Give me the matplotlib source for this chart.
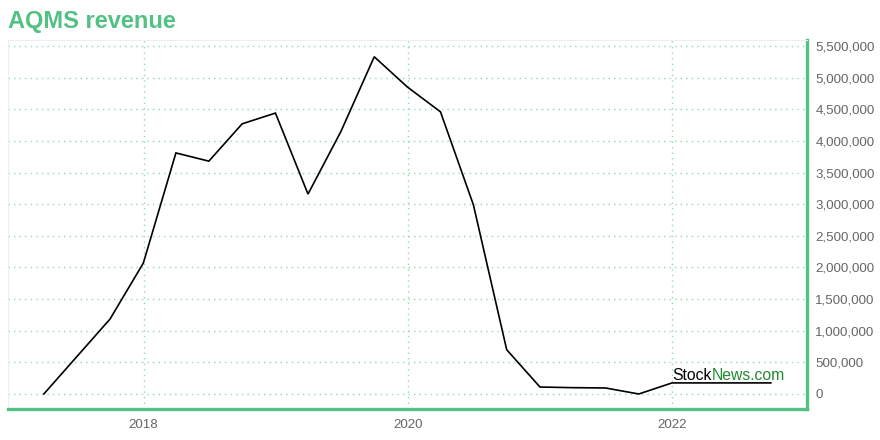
import matplotlib
matplotlib.use("Agg")
import matplotlib.pyplot as plt
import pandas as pd
from matplotlib.ticker import FuncFormatter, MultipleLocator

plt.rcParams['font.family'] = ['Liberation Sans', 'DejaVu Sans']

dates = ["2017-03-31", "2017-09-30", "2017-12-31", "2018-03-31", "2018-06-30",
         "2018-09-30", "2018-12-31", "2019-03-31", "2019-06-30", "2019-09-30",
         "2019-12-31", "2020-03-31", "2020-06-30", "2020-09-30", "2020-12-31",
         "2021-03-31", "2021-06-30", "2021-09-30", "2021-12-31", "2022-03-31",
         "2022-06-30", "2022-09-30"]
revenue = [0, 1185000, 2070000, 3810000, 3680000,
           4270000, 4440000, 3160000, 4150000, 5330000,
           4850000, 4460000, 2990000, 700000, 110000,
           100000, 95000, 0, 175000, 175000,
           175000, 175000]
year_ticks = ["2018", "2020", "2022"]
title = "AQMS revenue"

GREEN = "#52c184"
GRID = "#8fdcae"

x = pd.to_datetime(dates)

fig = plt.figure(figsize=(8.8, 4.4), dpi=100)
ax = fig.add_axes([0.0091, 0.0705, 0.9080, 0.8386])

ax.plot(x, revenue, color="black", lw=1.2, solid_joinstyle="miter")

ax.set_xlim(pd.Timestamp("2016-12-22"), pd.Timestamp("2023-01-08"))

ax.set_xticks([pd.Timestamp(y + "-01-01") for y in year_ticks])
ax.set_xticklabels(year_ticks)
ax.yaxis.set_major_locator(MultipleLocator(500000))
ax.yaxis.set_major_formatter(FuncFormatter(lambda v, p: f"{int(round(v)):,}"))
ax.set_ylim(-237000, 5595000)

ax.yaxis.tick_right()
ax.tick_params(axis="both", length=0, labelsize=9.6, labelcolor="#666666")
ax.tick_params(axis="y", pad=6)
ax.tick_params(axis="x", pad=7)

ax.grid(True, color=GRID, linestyle=(0, (1, 3)), lw=1)
ax.set_axisbelow(True)

for s in ["left", "top"]:
    ax.spines[s].set_color("#eeeeee")
    ax.spines[s].set_linewidth(0.8)
for s in ["right", "bottom"]:
    ax.spines[s].set_color(GREEN)
    ax.spines[s].set_linewidth(2.4)

fig.text(0.009, 0.952, title, color=GREEN, fontsize=17, fontweight="bold",
         ha="left", va="center")

t1 = ax.text(0.831, 0.0715, "Stock", transform=ax.transAxes, fontsize=11.3,
             color="black", ha="left", va="bottom")
ax.annotate("News.com", xy=(1, 0), xycoords=t1, fontsize=11.3,
            color="#1f8a2e", ha="left", va="bottom")

fig.savefig("out.png", dpi=100)
